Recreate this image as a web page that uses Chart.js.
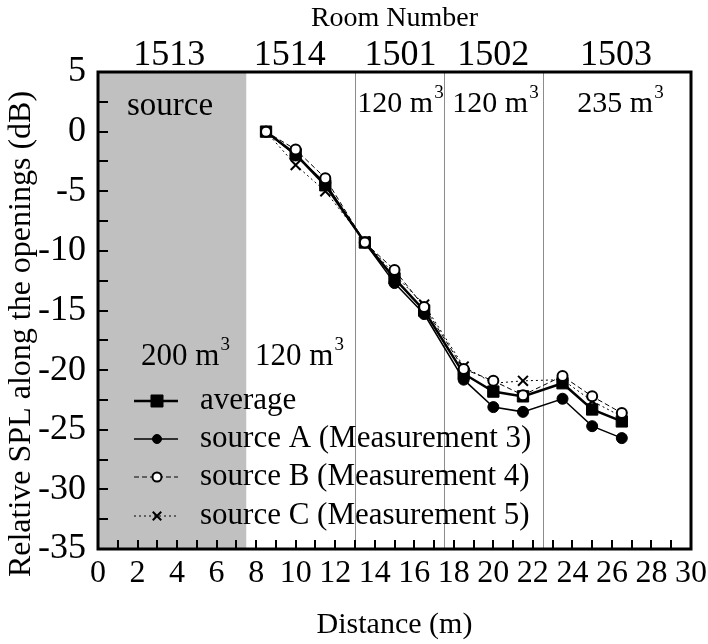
<!DOCTYPE html>
<html>
<head>
<meta charset="utf-8">
<script src="https://cdn.jsdelivr.net/npm/chart.js@4/dist/chart.umd.min.js"></script>
<style>
  html, body { margin: 0; padding: 0; background: #fff; }
  #wrap { width: 708px; height: 644px; }
</style>
</head>
<body>
<div id="wrap"><canvas id="spl"></canvas></div>
<script>
// measurement positions along the openings (m)
var distance = [8.5, 10, 11.5, 13.5, 15, 16.5, 18.5, 20, 21.5, 23.5, 25, 26.5];
// relative SPL (dB)
var average = [0, -1.9, -4.5, -9.3, -12.3, -15.0, -20.3, -21.8, -22.2, -21.1, -23.3, -24.3];
var sourceA = [0, -2.0, -4.3, -9.3, -12.7, -15.3, -20.8, -23.1, -23.5, -22.4, -24.7, -25.7];
var sourceB = [0, -1.5, -3.9, -9.3, -11.6, -14.7, -19.9, -20.9, -22.1, -20.5, -22.2, -23.6];
var sourceC = [0, -2.8, -5.0, -9.2, -12.0, -14.5, -19.7, -21.1, -20.9, -20.8, -22.6, -23.9];

var seriesNames = ['average', 'source A (Measurement 3)', 'source B (Measurement 4)', 'source C (Measurement 5)'];

// rooms on the top axis
var roomNames = ['1513', '1514', '1501', '1502', '1503'];
var roomLabelPos = [3.6, 9.7, 15.3, 20, 26.2];
var roomWalls = [13, 17.5, 22.5];
var sourceRoomEnd = 7.5;

var xTicks = { min: 0, max: 30, step: 1 };
var yTicks = { min: -35, max: 5, step: 2.5 };

var FONT = '"Liberation Serif", "Times New Roman", serif';
Chart.defaults.font.family = FONT;
Chart.defaults.color = '#000';

function pts(ys) {
	return distance.map(function(d, i) { return { x: d, y: ys[i] }; });
}

var styles = [
	{ borderWidth: 2.5, dash: [], pointStyle: 'rect', radius: 8, fill: '#000', pb: 1 },
	{ borderWidth: 1.5, dash: [], pointStyle: 'circle', radius: 5.5, fill: '#000', pb: 1 },
	{ borderWidth: 1, dash: [5, 3], pointStyle: 'circle', radius: 5, fill: '#fff', pb: 2 },
	{ borderWidth: 1, dash: [2, 3], pointStyle: 'crossRot', radius: 7, fill: '#000', pb: 2 }
];

var datasets = [average, sourceA, sourceB, sourceC].map(function(s, i) {
	var st = styles[i];
	return {
		label: seriesNames[i],
		data: pts(s),
		borderColor: '#000',
		borderWidth: st.borderWidth,
		borderDash: st.dash,
		pointStyle: st.pointStyle,
		pointRadius: st.radius,
		pointBackgroundColor: st.fill,
		pointBorderColor: '#000',
		pointBorderWidth: st.pb,
		tension: 0,
		order: [2, 3, 0, 1][i]
	};
});

function volText(ctx, num, cx, cy, size) {
	var sup = Math.round(size * 0.62);
	ctx.font = size + 'px ' + FONT;
	var main = num + ' m';
	var w1 = ctx.measureText(main).width;
	ctx.font = sup + 'px ' + FONT;
	var w2 = ctx.measureText('3').width;
	var x0 = cx - (w1 + w2) / 2;
	ctx.textAlign = 'left';
	ctx.textBaseline = 'middle';
	ctx.font = size + 'px ' + FONT;
	ctx.fillText(main, x0, cy);
	ctx.font = sup + 'px ' + FONT;
	ctx.fillText('3', x0 + w1 + 1, cy - size * 0.38);
}

// keep the plot box where the original has it
function noSidePad(s) {
	s.paddingLeft = 0;
	s.paddingRight = 0;
}

var roomsPlugin = {
	id: 'rooms',
	beforeDraw: function(chart) {
		var ctx = chart.ctx, a = chart.chartArea, x = chart.scales.x;
		ctx.save();
		ctx.fillStyle = '#fff';
		ctx.fillRect(0, 0, chart.width, chart.height);
		ctx.fillStyle = '#c0c0c0';
		ctx.fillRect(a.left, a.top, x.getPixelForValue(sourceRoomEnd) - a.left, a.bottom - a.top);
		ctx.strokeStyle = '#8c8c8c';
		ctx.lineWidth = 1;
		roomWalls.forEach(function(w) {
			var px = Math.round(x.getPixelForValue(w)) + 0.5;
			ctx.beginPath();
			ctx.moveTo(px, a.top);
			ctx.lineTo(px, a.bottom);
			ctx.stroke();
		});
		ctx.restore();
	},
	afterDraw: function(chart) {
		var ctx = chart.ctx, a = chart.chartArea;
		ctx.save();
		// frame
		ctx.strokeStyle = '#000';
		ctx.lineWidth = 3;
		ctx.strokeRect(a.left, a.top, a.right - a.left, a.bottom - a.top);

		// y axis title (sits a bit lower than the plot centre in the original)
		ctx.save();
		ctx.translate(22, 334);
		ctx.rotate(-Math.PI / 2);
		ctx.fillStyle = '#000';
		ctx.font = '32px ' + FONT;
		ctx.textAlign = 'center';
		ctx.textBaseline = 'middle';
		ctx.fillText('Relative SPL along the openings (dB)', 0, 0);
		ctx.restore();

		// room annotations
		ctx.fillStyle = '#000';
		ctx.font = '33px ' + FONT;
		ctx.textAlign = 'center';
		ctx.textBaseline = 'middle';
		ctx.fillText('source', 170, 106);
		volText(ctx, '120', 400, 104, 30);
		volText(ctx, '120', 495, 104, 30);
		volText(ctx, '235', 620, 104, 30);
		volText(ctx, '200', 185, 357, 31);
		volText(ctx, '120', 299, 357, 31);

		// legend
		var rowY = [401, 439, 477, 516];
		chart.data.datasets.forEach(function(ds, i) {
			var y = rowY[i];
			ctx.strokeStyle = '#000';
			ctx.lineWidth = ds.borderWidth;
			ctx.setLineDash(ds.borderDash);
			ctx.beginPath();
			ctx.moveTo(134, y);
			ctx.lineTo(178, y);
			ctx.stroke();
			ctx.setLineDash([]);
			ctx.fillStyle = ds.pointBackgroundColor;
			ctx.lineWidth = ds.pointBorderWidth;
			Chart.helpers.drawPoint(ctx, {
				pointStyle: ds.pointStyle,
				radius: ds.pointStyle === 'rect' ? 8.5 : (ds.pointStyle === 'crossRot' ? 6 : 4.5),
				rotation: 0,
				borderWidth: ds.pointBorderWidth
			}, 157, y);
			ctx.fillStyle = '#000';
			ctx.font = '31px ' + FONT;
			ctx.textAlign = 'left';
			ctx.textBaseline = 'middle';
			ctx.fillText(ds.label, 200, y);
		});
		ctx.restore();
	}
};

var ctx = document.getElementById('spl').getContext('2d');
var splChart = new Chart(ctx, {
	type: 'line',
	data: { datasets: datasets },
	options: {
		responsive: true,
		maintainAspectRatio: false,
		animation: false,
		layout: { padding: { left: 0, right: 17, top: 0, bottom: 0 } },
		plugins: {
			legend: { display: false },
			tooltip: { enabled: false }
		},
		scales: {
			x: {
				type: 'linear',
				position: 'bottom',
				min: xTicks.min,
				max: xTicks.max,
				afterFit: function(s) { s.height = 95; noSidePad(s); },
				border: { display: false },
				grid: { drawOnChartArea: false, drawTicks: true, tickLength: -9, color: '#000', lineWidth: 2 },
				ticks: {
					stepSize: xTicks.step,
					autoSkip: false,
					maxRotation: 0,
					padding: 14,
					font: { size: 32 },
					callback: function(v) { return v % 2 === 0 ? String(v) : ''; }
				},
				title: { display: true, text: 'Distance (m)', font: { size: 30 }, padding: { top: 0, bottom: 1 } }
			},
			xTop: {
				type: 'linear',
				position: 'top',
				min: xTicks.min,
				max: xTicks.max,
				afterFit: function(s) { s.height = 72; noSidePad(s); },
				afterBuildTicks: function(s) {
					s.ticks = roomLabelPos.map(function(v) { return { value: v }; });
				},
				border: { display: false },
				grid: { display: false },
				ticks: {
					autoSkip: false,
					maxRotation: 0,
					padding: -13,
					font: { size: 36 },
					callback: function(v, i) { return roomNames[i]; }
				},
				title: { display: true, text: 'Room Number', font: { size: 28 }, padding: { top: 2, bottom: 0 } }
			},
			y: {
				type: 'linear',
				position: 'left',
				min: yTicks.min,
				max: yTicks.max,
				afterFit: function(s) { s.width = 98; },
				border: { display: false },
				grid: { drawOnChartArea: false, drawTicks: true, tickLength: -10, color: '#000', lineWidth: 2 },
				ticks: {
					stepSize: yTicks.step,
					autoSkip: false,
					padding: 22,
					font: { size: 36 },
					callback: function(v) { return v % 5 === 0 ? String(v) : ''; }
				},
				title: { display: false }
			}
		}
	},
	plugins: [roomsPlugin]
});
</script>
</body>
</html>
